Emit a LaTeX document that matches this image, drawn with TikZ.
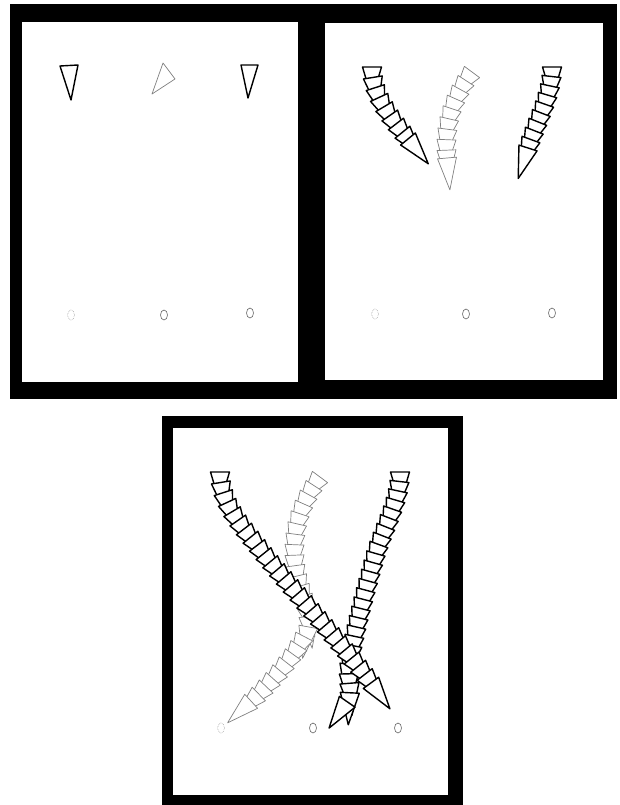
\documentclass[tikz,border=0pt]{standalone}
\usetikzlibrary{decorations.markings}
\tikzset{panelouter/.style={fill=black},panelinner/.style={fill=white},
ptrdark/.style={draw=black,line width=1.4pt,fill=white,line join=round},
ptrpale/.style={draw=black!50,line width=0.7pt,fill=white,line join=round},
targetdot/.style={draw=black!60,line width=0.6pt},
targetpale/.style={draw=black!35,line width=0.6pt,densely dotted},
trail/.style 2 args={decorate,decoration={markings,
  mark=between positions 0 and 1 step #1 with {\path[#2] (0pt,-9.5pt) -- (0pt,9.5pt) -- (32pt,0pt) -- cycle;},
  mark=at position 1 with {\path[#2] (0pt,-9.5pt) -- (0pt,9.5pt) -- (32pt,0pt) -- cycle;}}}}
\begin{document}
\begin{tikzpicture}[x=1pt,y=-1pt]
\useasboundingbox (0,0) rectangle (619,805);
% frames
\fill[panelouter] (10,4) rectangle (312,399);
\fill[panelinner] (22,22) rectangle (298,382);
\fill[panelouter] (311,4) rectangle (617,399);
\fill[panelinner] (325,23) rectangle (603,380);
\fill[panelouter] (162,416) rectangle (463,805);
\fill[panelinner] (173,428) rectangle (448,795);
% start panel
\filldraw[ptrdark] (60,66) -- (78,65) -- (71,100) -- cycle;
\filldraw[ptrpale] (163,63) -- (175,79) -- (152,94) -- cycle;
\filldraw[ptrdark] (241,65) -- (258,65) -- (248,98) -- cycle;
\draw[targetpale] (71,315) ellipse (3.5pt and 5pt);
\draw[targetdot] (164,315) ellipse (3.5pt and 5pt);
\draw[targetdot] (250,313) ellipse (3.5pt and 5pt);
% middle panel
\begin{scope}[shift={(152,-405)}]
\path[trail={9.5pt}{ptrdark}] (400,472) .. controls (400,500) and (385,525) .. (376,553);
\path[trail={10.5pt}{ptrpale}] (320,477) .. controls (300,504) and (292,530) .. (295,563);
\path[trail={10.5pt}{ptrdark}] (220,472) .. controls (220,500) and (238,522) .. (256,544);
\draw[targetpale] (223,719) ellipse (3.5pt and 5pt);
\draw[targetdot] (314,719) ellipse (3.5pt and 5pt);
\draw[targetdot] (400,718) ellipse (3.5pt and 5pt);
\end{scope}
% end panel
\path[trail={9.5pt}{ptrdark}] (400,472) .. controls (400,500) and (385,525) .. (376,553)
  .. controls (364,595) and (352,640) .. (349,668) .. controls (348,684) and (354,698) .. (344,705);
\path[trail={10.5pt}{ptrpale}] (320,477) .. controls (300,504) and (292,530) .. (295,563)
  .. controls (298,590) and (312,610) .. (308,628) .. controls (300,650) and (270,685) .. (247,705);
\path[trail={10.5pt}{ptrdark}] (220,472) .. controls (220,500) and (238,522) .. (256,544)
  .. controls (280,576) and (354,657) .. (376,690);
\draw[targetpale] (221,728) ellipse (3.5pt and 5pt);
\draw[targetdot] (313,728) ellipse (3.5pt and 5pt);
\draw[targetdot] (398,728) ellipse (3.5pt and 5pt);
\end{tikzpicture}
\end{document}
